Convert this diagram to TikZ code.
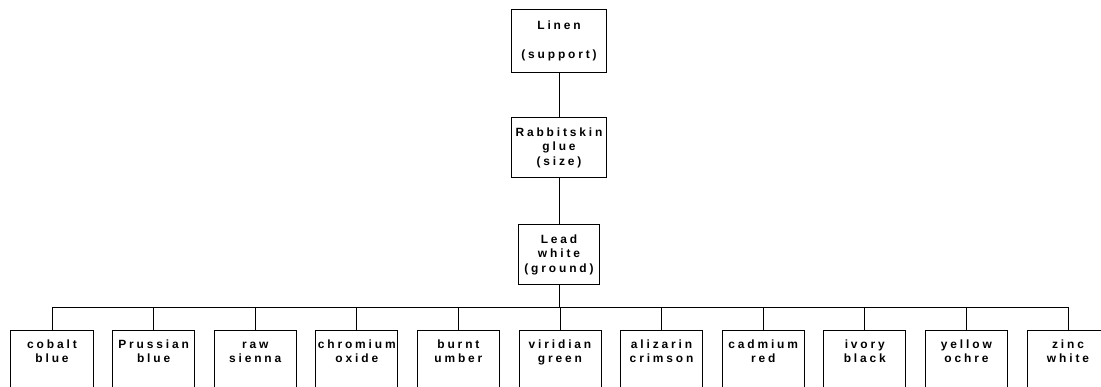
\documentclass[tikz,border=0pt]{standalone}
\usepackage{fontspec}
\newfontfamily\paintfont{Liberation Sans}[LetterSpace=24]
\usetikzlibrary{positioning,calc}

\tikzset{
    layer/.style={draw, thin, line width=0.7pt, align=center, inner sep=2pt,
        font=\paintfont\bfseries\fontsize{8.5}{10.3}\selectfont},
    pigment/.style={draw, line width=0.7pt, anchor=north,
        minimum width=2.05cm, minimum height=2.2cm},
    pigmenttext/.style={align=center, anchor=north, yshift=-0.1cm,
        font=\paintfont\bfseries\fontsize{8.5}{10}\selectfont},
    link/.style={line width=0.7pt}
}

\begin{document}
\begin{tikzpicture}[x=0.025cm, y=-0.025cm]
    \useasboundingbox (0,0) rectangle (1101,387);
    \clip (0,0) rectangle (1101,387);

    % Layers of the painting
    \node[layer, minimum width=2.35cm, minimum height=1.55cm] (linen) at (559,41)
        {Linen\\[10.5pt](support)};
    \node[layer, minimum width=2.35cm, minimum height=1.52cm] (size) at (559,147.5)
        {Rabbitskin\\glue\\(size)};
    \node[layer, minimum width=2.03cm, minimum height=1.48cm] (ground) at (559,254.5)
        {Lead\\white\\(ground)};

    \coordinate (bar) at (559,307);

    % Pigments
    \foreach \name [count=\i from 0] in {cobalt\\blue, Prussian\\blue, raw\\sienna,
        chromium\\oxide, burnt\\umber, viridian\\green, alizarin\\crimson,
        cadmium\\red, ivory\\black, yellow\\ochre, zinc\\white} {
        \node[pigment] (p\i) at (52+101.6*\i,330) {};
        \node[pigmenttext] (t\i) at (p\i.north) {\strut\name};
        \draw[link] (p\i.north) -- (p\i.north |- bar);
    }

    % Connectors
    \draw[link] (linen.south) -- (size.north);
    \draw[link] (size.south) -- (ground.north);
    \draw[link] (ground.south) -- (bar);
    \draw[link] (p0.north |- bar) -- (p10.north |- bar);
\end{tikzpicture}
\end{document}
